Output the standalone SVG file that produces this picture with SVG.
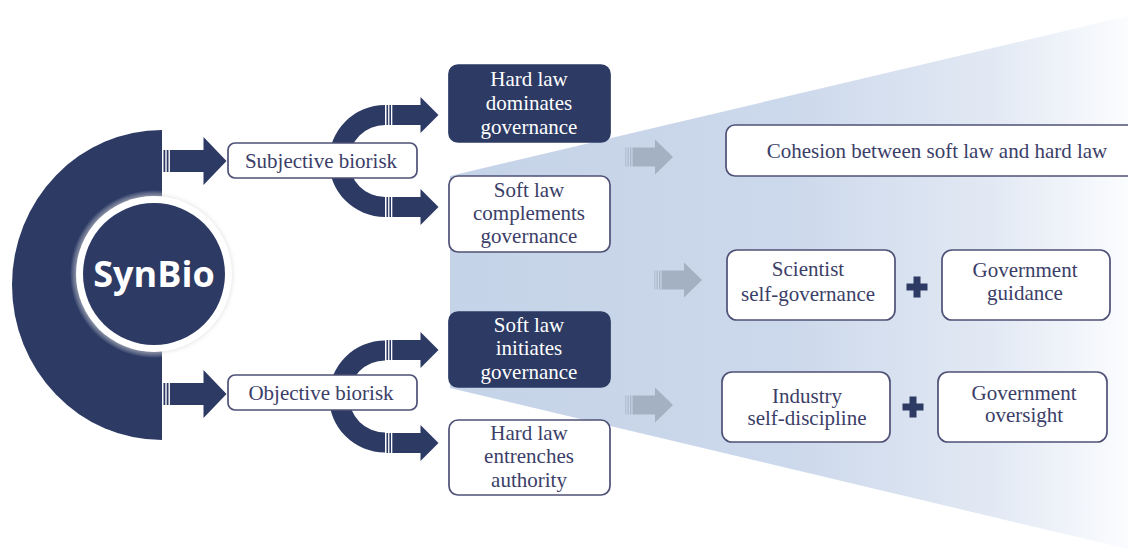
<svg xmlns="http://www.w3.org/2000/svg" xmlns:xlink="http://www.w3.org/1999/xlink" width="1128" height="549" viewBox="0 0 1128 549">
  <style>
    .navy { fill: #2c3a64; }
    .grey { fill: #a4b1c3; }
    .box { fill: #ffffff; stroke: #4f5176; stroke-width: 1.7; }
    .dbox { fill: #2c3a64; stroke: #2c3a64; stroke-width: 1.7; }
    .t { font-family: 'Liberation Serif', 'Times New Roman', serif; font-size: 21px; fill: #3b3e68; text-anchor: middle; }
    .tw { fill: #ffffff; }
    .logo { font-family: 'Open Sans', 'Liberation Sans', sans-serif; font-weight: 700; font-size: 36px; fill: #ffffff; text-anchor: middle; }
  </style>
  <defs>
    <linearGradient id="fan" gradientUnits="userSpaceOnUse" x1="450" y1="0" x2="1128" y2="0">
      <stop offset="0" stop-color="#c5d3e8"/>
      <stop offset="0.5" stop-color="#ccd8eb"/>
      <stop offset="0.8" stop-color="#e2e9f4"/>
      <stop offset="1" stop-color="#fbfcfe"/>
    </linearGradient>
    <radialGradient id="halo" cx="0.5" cy="0.5" r="0.5">
      <stop offset="0.86" stop-color="#bfbfbf"/>
      <stop offset="1" stop-color="#ffffff" stop-opacity="0"/>
    </radialGradient>
    <!-- striped block arrows, tail at x=0, centred on y=0 -->
    <g id="arrowBig">
      <rect x="0" y="-11" width="1.8" height="22"/>
      <rect x="3.2" y="-11" width="1.8" height="22"/>
      <path d="M6.4,-11 H40 V-24 L63,0 L40,24 V11 H6.4 Z"/>
    </g>
    <g id="arrowSmall">
      <rect x="0" y="-10" width="1.6" height="20"/>
      <rect x="2.9" y="-10" width="1.6" height="20"/>
      <path d="M5.8,-10 H34 V-18 L52,0 L34,18 V10 H5.8 Z"/>
    </g>
    <g id="arrowGrey">
      <rect x="0" y="-9.5" width="1.4" height="19" opacity="0.55"/>
      <rect x="2.5" y="-9.5" width="1.4" height="19" opacity="0.7"/>
      <rect x="5" y="-9.5" width="1.4" height="19" opacity="0.85"/>
      <path d="M7.5,-9.5 H30 V-17.5 L48,0 L30,17.5 V9.5 H7.5 Z"/>
    </g>
  </defs>

  <!-- fan-shaped backdrop behind the outcome boxes -->
  <polygon points="450,176 1128,16 1128,549 450,388" fill="url(#fan)"/>

  <!-- SynBio hub -->
  <g id="synbio">
    <path class="navy" d="M162,130 A150,155 0 0 0 162,440 Z"/>
    <circle cx="154" cy="274" r="84" fill="url(#halo)"/>
    <circle cx="154" cy="274" r="78" fill="#ffffff"/>
    <circle cx="154" cy="274" r="71" class="navy"/>
    <text class="logo" x="154" y="287">SynBio</text>
  </g>

  <!-- connectors -->
  <g id="connectors">
    <use xlink:href="#arrowBig" x="163.5" y="161" class="navy"/>
    <use xlink:href="#arrowBig" x="163.5" y="394" class="navy"/>
    <path class="navy" d="M385,105 A56,56 0 0 0 385,217 L385,197 A36,36 0 0 1 385,125 Z"/>
    <path class="navy" d="M385,340.5 A56,56 0 0 0 385,452.5 L385,432.5 A36,36 0 0 1 385,360.5 Z"/>
    <use xlink:href="#arrowSmall" x="386.5" y="115" class="navy"/>
    <use xlink:href="#arrowSmall" x="386.5" y="207" class="navy"/>
    <use xlink:href="#arrowSmall" x="386.5" y="350" class="navy"/>
    <use xlink:href="#arrowSmall" x="386.5" y="443" class="navy"/>
    <use xlink:href="#arrowGrey" x="625" y="157" class="grey"/>
    <use xlink:href="#arrowGrey" x="654" y="280" class="grey"/>
    <use xlink:href="#arrowGrey" x="625" y="405" class="grey"/>
    <path class="navy" d="M906.5,283.5 H913.5 V276.5 H920.5 V283.5 H927.5 V290.5 H920.5 V297.5 H913.5 V290.5 H906.5 Z"/>
    <path class="navy" d="M902.5,403.5 H909.5 V396.5 H916.5 V403.5 H923.5 V410.5 H916.5 V417.5 H909.5 V410.5 H902.5 Z"/>
  </g>

  <!-- risk categories -->
  <g id="subjective">
    <rect class="box" x="228" y="143" width="189" height="35" rx="7"/>
    <text class="t" x="321" y="168">Subjective biorisk</text>
  </g>
  <g id="objective">
    <rect class="box" x="228" y="375" width="189" height="35" rx="7"/>
    <text class="t" x="321" y="400">Objective biorisk</text>
  </g>

  <!-- governance modes -->
  <g id="hard-dominates">
    <rect class="dbox" x="449" y="65" width="161" height="77" rx="9"/>
    <text class="t tw" x="529" y="86">Hard law</text>
    <text class="t tw" x="529" y="110">dominates</text>
    <text class="t tw" x="529" y="134">governance</text>
  </g>
  <g id="soft-complements">
    <rect class="box" x="449" y="176" width="161" height="76" rx="9"/>
    <text class="t" x="529" y="197">Soft law</text>
    <text class="t" x="529" y="220">complements</text>
    <text class="t" x="529" y="243">governance</text>
  </g>
  <g id="soft-initiates">
    <rect class="dbox" x="449" y="312" width="161" height="75" rx="9"/>
    <text class="t tw" x="529" y="332">Soft law</text>
    <text class="t tw" x="529" y="355">initiates</text>
    <text class="t tw" x="529" y="379">governance</text>
  </g>
  <g id="hard-entrenches">
    <rect class="box" x="449" y="420" width="161" height="75" rx="9"/>
    <text class="t" x="529" y="440">Hard law</text>
    <text class="t" x="529" y="463">entrenches</text>
    <text class="t" x="529" y="487">authority</text>
  </g>

  <!-- outcomes -->
  <g id="cohesion">
    <rect class="box" x="726" y="125" width="420" height="51" rx="9"/>
    <text class="t" x="937" y="158">Cohesion between soft law and hard law</text>
  </g>
  <g id="scientist">
    <rect class="box" x="727" y="250" width="168" height="70" rx="10"/>
    <text class="t" x="808" y="276">Scientist</text>
    <text class="t" x="808" y="301">self-governance</text>
  </g>
  <g id="gov-guidance">
    <rect class="box" x="942" y="250" width="168" height="70" rx="10"/>
    <text class="t" x="1025" y="277">Government</text>
    <text class="t" x="1025" y="300">guidance</text>
  </g>
  <g id="industry">
    <rect class="box" x="722" y="372" width="168" height="70" rx="10"/>
    <text class="t" x="807" y="403">Industry</text>
    <text class="t" x="807" y="425">self-discipline</text>
  </g>
  <g id="gov-oversight">
    <rect class="box" x="938" y="372" width="169" height="70" rx="10"/>
    <text class="t" x="1024" y="400">Government</text>
    <text class="t" x="1024" y="422">oversight</text>
  </g>
</svg>
